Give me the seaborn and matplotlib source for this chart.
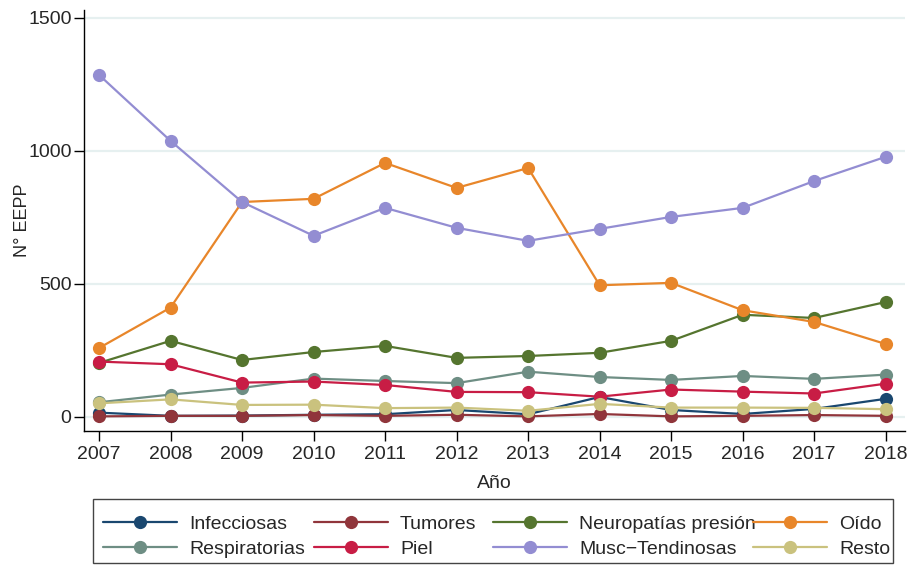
import seaborn as sns
import matplotlib.pyplot as plt
import pandas as pd
from matplotlib.lines import Line2D
from matplotlib.patches import Rectangle

years = list(range(2007, 2019))

infecciosas = [16, 4, 5, 8, 10, 26, 10, 75, 26, 11, 30, 68]
tumores = [2, 4, 4, 7, 4, 8, 2, 11, 2, 4, 7, 4]
neuropatias = [203, 286, 214, 244, 267, 222, 229, 241, 286, 384, 372, 432]
oido = [259, 411, 808, 820, 955, 861, 936, 495, 504, 401, 357, 274]
respiratorias = [55, 84, 109, 144, 135, 127, 170, 150, 139, 154, 143, 159]
piel = [208, 198, 129, 133, 120, 94, 93, 76, 103, 95, 88, 125]
musc = [1286, 1038, 808, 681, 786, 711, 662, 707, 752, 786, 887, 978]
resto = [51, 66, 45, 46, 33, 35, 23, 49, 35, 35, 34, 29]

groups = ['Infecciosas', 'Tumores', 'Neuropatías presión', 'Oído',
          'Respiratorias', 'Piel', 'Musc\u2212Tendinosas', 'Resto']
series = [infecciosas, tumores, neuropatias, oido, respiratorias, piel, musc, resto]
colors = ['#1a476f', '#90353b', '#55752f', '#e8862a',
          '#6e8e84', '#c81d45', '#938dd2', '#cac27e']

df = pd.DataFrame({
    'Año': years * len(groups),
    'n': [v for s in series for v in s],
    'grupo': [g for g in groups for _ in years],
})

sns.set_style('white')
plt.rcParams['font.family'] = ['Liberation Sans', 'DejaVu Sans']

fig = plt.figure(figsize=(9.11, 5.65), dpi=100)
ax = fig.add_axes([84 / 911, 1 - 431 / 565, 821 / 911, 421 / 565])

# light horizontal grid
for yv in [0, 500, 1000, 1500]:
    ax.axhline(yv, color='#e6f0f0', lw=1.6, zorder=0)

sns.lineplot(data=df, x='Año', y='n', hue='grupo', hue_order=groups,
             palette=colors, marker='o', markersize=9.5, markeredgewidth=0,
             linewidth=1.6, legend=False, ax=ax)

ax.set_xlim(2006.79, 2018.27)
ax.set_ylim(-53, 1530)
ax.set_xticks(years)
ax.set_yticks([0, 500, 1000, 1500])
ax.tick_params(axis='both', direction='out', length=7, width=1, labelsize=14,
               bottom=True, left=True, color='black')
ax.tick_params(axis='x', pad=4)
ax.tick_params(axis='y', pad=2)
for side in ['top', 'right']:
    ax.spines[side].set_visible(False)
for side in ['left', 'bottom']:
    ax.spines[side].set_color('black')
    ax.spines[side].set_linewidth(1)
ax.set_xlabel('Año', fontsize=14, labelpad=8.5)
ax.set_ylabel('N° EEPP', fontsize=13, labelpad=-2)

# legend: one column per legend so columns sit where Stata puts them
handles = [Line2D([], [], color=c, marker='o', markersize=9.5, markeredgewidth=0, lw=1.6)
           for c in colors]
col_x = [103, 314, 493, 753]
for k in range(4):
    idx = [k, k + 4]
    fig.legend([handles[i] for i in idx], [groups[i] for i in idx],
               loc='upper left', bbox_to_anchor=(col_x[k] / 911, 1 - 515 / 565),
               fontsize=14, handlelength=3.8, handletextpad=0.62,
               labelspacing=0.41, borderaxespad=0, borderpad=0, frameon=False)

# legend frame (pixels 93..893 x 499..563)
fig.patches.append(Rectangle((93 / 911, 2 / 565), 800 / 911, 64 / 565,
                             transform=fig.transFigure, fill=False,
                             edgecolor='#444444', lw=1))

fig.savefig('out.png', dpi=100)
